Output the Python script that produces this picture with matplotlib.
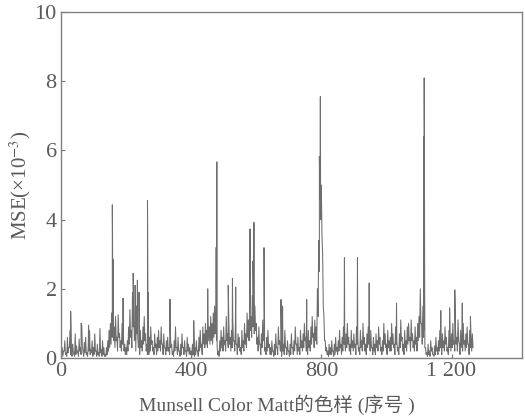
import numpy as np
import matplotlib
matplotlib.use('Agg')
import matplotlib.pyplot as plt

plt.rcParams['font.family'] = ['Liberation Serif', 'Noto Sans CJK SC']
plt.rcParams['mathtext.fontset'] = 'stix'

# MSE (x1e-3): local highs at samples 0,4,8,... (base_values)
# and local lows at samples 2,6,10,... (trough_values), samples 0..1266
base_step = 4
base_values = [
    # 0-96
    0.9, 0.3, 0.2, 0.5, 0.15, 0.6, 0.3, 0.8, 0.25, 0.4, 0.1, 0.7, 0.35, 0.2, 0.55, 0.3, 0.95, 0.2, 0.45, 0.6, 0.15, 0.35, 0.8, 0.25, 0.5,
    # 100-196
    0.3, 0.7, 0.2, 0.4, 0.15, 0.85, 0.25, 0.5, 0.3, 0.1, 0.3, 0.5, 0.8, 1.0, 1.3, 1.1, 0.9, 1.2, 0.6, 1.25, 0.7, 0.5, 1.0, 0.6, 0.4,
    # 200-296
    0.3, 0.5, 0.9, 1.4, 0.8, 1.9, 1.2, 0.7, 1.5, 0.6, 0.4, 0.8, 0.5, 0.9, 1.2, 0.7, 0.4, 0.3, 0.6, 0.9, 0.5, 0.3, 0.7, 0.4, 0.6,
    # 300-396
    0.8, 0.5, 0.9, 0.4, 0.7, 0.3, 0.5, 0.6, 0.3, 0.8, 0.4, 0.2, 0.5, 0.9, 0.3, 0.6, 0.2, 0.4, 0.7, 0.3, 0.5, 0.2, 0.6, 0.4, 0.3,
    # 400-496
    0.2, 0.4, 0.15, 0.3, 0.5, 0.2, 0.6, 0.8, 0.4, 0.9, 0.7, 1.0, 0.8, 1.1, 0.9, 1.2, 1.0, 1.3, 1.5, 1.1, 0.3, 0.2, 0.5, 0.8, 0.6,
    # 500-596
    0.9, 0.5, 1.2, 0.7, 1.0, 0.6, 0.8, 1.1, 0.5, 0.9, 0.4, 0.7, 0.6, 0.3, 0.8, 0.5, 1.0, 0.7, 1.3, 1.1, 1.6, 1.2, 1.8, 1.4, 1.5,
    # 600-696
    1.0, 0.6, 0.9, 0.4, 0.7, 1.1, 0.5, 0.3, 0.6, 0.8, 0.4, 0.3, 0.5, 0.2, 0.4, 0.7, 0.3, 0.9, 0.5, 0.2, 0.6, 0.4, 0.8, 0.3, 0.5,
    # 700-796
    0.2, 0.4, 0.7, 0.3, 0.5, 0.9, 0.4, 0.6, 0.3, 0.8, 0.5, 0.7, 1.0, 0.6, 0.4, 0.8, 0.5, 0.9, 1.2, 0.7, 1.1, 0.9, 2.0, 3.4, 4.6,
    # 800-896
    5.0, 3.0, 1.2, 0.5, 0.3, 0.2, 0.4, 0.3, 0.5, 0.2, 0.4, 0.6, 0.3, 0.5, 0.8, 0.4, 0.6, 0.9, 0.5, 0.7, 1.0, 0.6, 0.4, 0.8, 0.5,
    # 900-996
    0.7, 0.4, 0.9, 0.6, 0.3, 0.8, 0.5, 1.0, 0.6, 0.4, 0.7, 0.9, 0.5, 0.8, 0.3, 0.6, 0.4, 0.7, 0.5, 0.9, 0.6, 0.3, 0.5, 1.0, 0.7,
    # 1000-1096
    0.4, 0.8, 0.5, 0.6, 1.0, 0.7, 0.4, 0.9, 0.5, 0.3, 0.7, 1.1, 0.6, 0.4, 0.8, 0.5, 0.9, 1.0, 0.6, 1.1, 0.7, 0.5, 0.9, 0.6, 1.0,
    # 1100-1196
    1.2, 2.0, 1.0, 1.5, 0.8, 0.3, 0.15, 0.4, 0.2, 0.5, 0.3, 0.1, 0.35, 0.6, 0.3, 0.5, 0.8, 0.4, 0.7, 0.5, 0.9, 0.6, 0.3, 0.8, 0.5,
    # 1200-1264
    0.7, 1.0, 0.5, 0.9, 0.6, 1.1, 0.4, 0.8, 0.6, 1.0, 0.5, 0.7, 0.9, 0.4, 0.8, 0.6, 0.7,
]

trough_values = [
    # 2-98
    0.1, 0.05, 0.2, 0.1, 0.05, 0.15, 0.3, 0.1, 0.05, 0.2, 0.05, 0.1, 0.15, 0.05, 0.2, 0.1, 0.3, 0.05, 0.15, 0.1, 0.05, 0.2, 0.1, 0.15, 0.05,
    # 102-198
    0.1, 0.2, 0.05, 0.1, 0.05, 0.15, 0.05, 0.1, 0.05, 0.05, 0.1, 0.2, 0.3, 0.4, 0.6, 0.5, 0.3, 0.5, 0.2, 0.6, 0.3, 0.2, 0.4, 0.2, 0.1,
    # 202-298
    0.1, 0.2, 0.4, 0.6, 0.3, 0.9, 0.5, 0.2, 0.7, 0.3, 0.1, 0.3, 0.2, 0.4, 0.5, 0.2, 0.1, 0.1, 0.2, 0.4, 0.2, 0.1, 0.3, 0.1, 0.2,
    # 302-398
    0.3, 0.2, 0.4, 0.1, 0.3, 0.1, 0.2, 0.2, 0.1, 0.3, 0.1, 0.05, 0.2, 0.3, 0.1, 0.2, 0.05, 0.1, 0.3, 0.1, 0.2, 0.05, 0.2, 0.1, 0.1,
    # 402-498
    0.05, 0.1, 0.05, 0.1, 0.2, 0.05, 0.2, 0.3, 0.1, 0.4, 0.3, 0.4, 0.3, 0.5, 0.4, 0.5, 0.4, 0.6, 0.7, 0.5, 0.1, 0.05, 0.2, 0.3, 0.2,
    # 502-598
    0.4, 0.2, 0.5, 0.3, 0.4, 0.2, 0.3, 0.5, 0.2, 0.4, 0.1, 0.3, 0.2, 0.1, 0.3, 0.2, 0.4, 0.3, 0.6, 0.5, 0.8, 0.6, 0.9, 0.7, 0.8,
    # 602-698
    0.4, 0.2, 0.4, 0.1, 0.3, 0.5, 0.2, 0.1, 0.2, 0.3, 0.1, 0.1, 0.2, 0.05, 0.1, 0.3, 0.1, 0.4, 0.2, 0.05, 0.2, 0.1, 0.3, 0.1, 0.2,
    # 702-798
    0.05, 0.1, 0.3, 0.1, 0.2, 0.4, 0.1, 0.2, 0.1, 0.3, 0.2, 0.3, 0.5, 0.2, 0.1, 0.3, 0.2, 0.4, 0.6, 0.3, 0.5, 0.4, 1.2, 2.5, 4.0,
    # 802-898
    3.5, 1.5, 0.5, 0.2, 0.1, 0.05, 0.1, 0.1, 0.2, 0.05, 0.1, 0.2, 0.1, 0.2, 0.3, 0.1, 0.2, 0.4, 0.2, 0.3, 0.4, 0.2, 0.1, 0.3, 0.2,
    # 902-998
    0.3, 0.1, 0.4, 0.2, 0.1, 0.3, 0.2, 0.4, 0.2, 0.1, 0.3, 0.4, 0.2, 0.3, 0.1, 0.2, 0.1, 0.3, 0.2, 0.4, 0.2, 0.1, 0.2, 0.4, 0.3,
    # 1002-1098
    0.1, 0.3, 0.2, 0.2, 0.4, 0.3, 0.1, 0.4, 0.2, 0.1, 0.3, 0.5, 0.2, 0.1, 0.3, 0.2, 0.4, 0.5, 0.2, 0.5, 0.3, 0.2, 0.4, 0.2, 0.5,
    # 1102-1198
    0.6, 1.0, 0.4, 0.6, 0.3, 0.1, 0.05, 0.1, 0.05, 0.2, 0.1, 0.05, 0.1, 0.2, 0.1, 0.2, 0.3, 0.1, 0.3, 0.2, 0.4, 0.2, 0.1, 0.3, 0.2,
    # 1202-1266
    0.3, 0.4, 0.2, 0.4, 0.2, 0.5, 0.1, 0.3, 0.2, 0.4, 0.2, 0.3, 0.4, 0.1, 0.3, 0.2, 0.3,
]

# single-sample spikes
spike_index = [30, 62, 85, 158, 160, 191, 222, 228, 235, 240, 266, 268, 335, 408, 451,
               477, 479, 514, 527, 537, 581, 590, 593, 624, 676, 681, 755, 794, 797,
               871, 911, 947, 1031, 1114, 1116, 1167, 1194, 1210, 1233, 1258]
spike_values = [1.35, 1.0, 0.95, 4.43, 2.85, 1.73, 2.45, 2.1, 2.25, 1.9, 4.55, 1.9, 1.7, 1.08, 2.0,
                3.2, 5.67, 2.1, 2.3, 2.05, 3.73, 2.8, 3.92, 3.19, 1.69, 1.5, 1.69, 5.83, 7.56,
                2.9, 2.9, 2.17, 1.59, 6.4, 8.1, 1.37, 1.45, 1.97, 1.59, 1.2]

x_ticks = [0, 400, 800, 1200]
x_tick_labels = ['0', '400', '800', '1 200']
y_ticks = [0, 2, 4, 6, 8, 10]

base_index = np.arange(len(base_values)) * base_step
trough_index = np.arange(len(trough_values)) * base_step + base_step // 2
xs = np.concatenate([base_index, trough_index, spike_index])
ys = np.concatenate([base_values, trough_values, spike_values])
order = np.argsort(xs, kind='stable')
xs = xs[order]
ys = ys[order]

fig = plt.figure(figsize=(5.25, 4.18), dpi=100)
ax = fig.add_axes([0.116, 0.1435, 0.878, 0.8275])
ax.plot(xs, ys, color='#6e6e6e', linewidth=0.75)

ax.set_xlim(0, 1416)
ax.set_ylim(0, 10)
ax.set_xticks(x_ticks)
ax.set_xticklabels(x_tick_labels)
ax.set_yticks(y_ticks)
ax.tick_params(direction='in', length=3, width=0.8, colors='#777777', labelcolor='#5a5a5a',
               labelsize=16, pad=3)
for s in ax.spines.values():
    s.set_color('#808080')
    s.set_linewidth(1.0)

ax.set_ylabel('MSE(×10$^{-3}$)', fontsize=15, color='#5a5a5a')
ax.yaxis.set_label_coords(-0.06, 0.5)
ax.set_xlabel('Munsell Color Matt的色样 (序号 )', fontsize=14, color='#5a5a5a')
ax.xaxis.set_label_coords(0.468, -0.105)

fig.savefig('out.png', dpi=100)
